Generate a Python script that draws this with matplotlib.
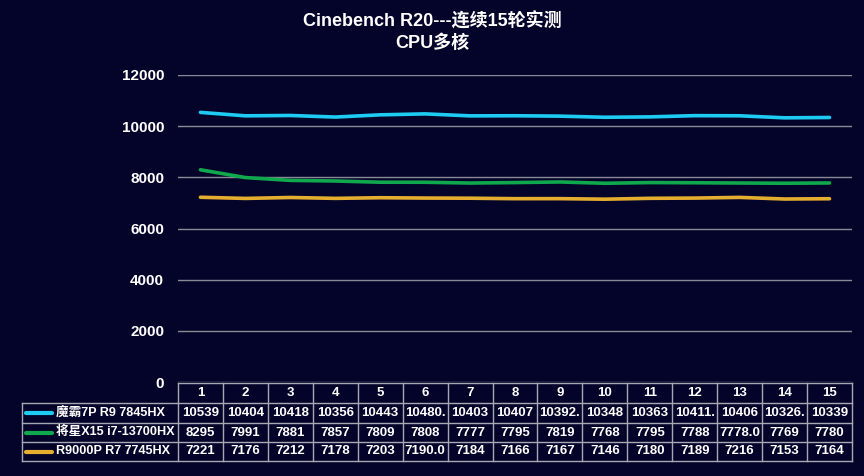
import matplotlib.pyplot as plt
import numpy as np

# ---------------- data ----------------
rounds = ['1', '2', '3', '4', '5', '6', '7', '8', '9', '10', '11', '12', '13', '14', '15']
series_names = ['魔霸7P R9 7845HX', '将星X15 i7-13700HX', 'R9000P R7 7745HX']
mobahx = [10539, 10404, 10418, 10356, 10443, 10480, 10403, 10407, 10392, 10348, 10363, 10411, 10406, 10326, 10339]
jiangxing = [8295, 7991, 7881, 7857, 7809, 7808, 7777, 7795, 7819, 7768, 7795, 7788, 7778, 7769, 7780]
r9000p = [7221, 7176, 7212, 7178, 7203, 7190, 7184, 7166, 7167, 7146, 7180, 7189, 7216, 7153, 7164]
# texts as shown in the data table (some cells are cut off in the original)
mobahx_txt = ['10539', '10404', '10418', '10356', '10443', '10480.', '10403', '10407', '10392.', '10348', '10363', '10411.', '10406', '10326.', '10339']
jiangxing_txt = ['8295', '7991', '7881', '7857', '7809', '7808', '7777', '7795', '7819', '7768', '7795', '7788', '7778.0', '7769', '7780']
r9000p_txt = ['7221', '7176', '7212', '7178', '7203', '7190.0', '7184', '7166', '7167', '7146', '7180', '7189', '7216', '7153', '7164']
colors = ['#1ecbf2', '#10a84c', '#e6ae2e']

BG = '#04042a'
FONT = ['Liberation Sans', 'Noto Sans CJK SC', 'DejaVu Sans']
plt.rcParams['font.family'] = FONT

W, H = 864, 476
fig = plt.figure(figsize=(W / 100, H / 100), dpi=100, facecolor=BG)

# plot area in pixels
px_l, px_r, px_t, px_b = 178, 852, 75, 382
ax = fig.add_axes([px_l / W, 1 - px_b / H, (px_r - px_l) / W, (px_b - px_t) / H])
ax.set_facecolor(BG)

x = np.arange(1, len(rounds) + 1)
for vals, c in zip([mobahx, jiangxing, r9000p], colors):
    ax.plot(x, vals, color=c, lw=2.6, solid_capstyle='round', zorder=3)

ax.set_xlim(0.5, len(rounds) + 0.5)
ax.set_ylim(0, 12000)
ax.set_yticks(range(0, 12001, 2000))
ax.yaxis.grid(True, color='#8a8a96', lw=1)
ax.set_axisbelow(True)
ax.set_xticks([])
ax.tick_params(axis='y', length=0, pad=10, labelsize=11, labelcolor='white')
for lab in ax.get_yticklabels():
    lab.set_fontweight('bold')
for s in ax.spines.values():
    s.set_visible(False)

fig.text(0.5, 1 - 32 / H, 'Cinebench R20---连续15轮实测\nCPU多核', ha='center', va='center',
         color='white', fontsize=13, fontweight='bold', linespacing=1.3)

# ---------------- data table ----------------
tab = fig.add_axes([0, 0, 1, 1])
tab.set_xlim(0, W)
tab.set_ylim(H, 0)
tab.axis('off')
tab.patch.set_alpha(0)

lc = '#a8a8b4'
col_w = (px_r - px_l) / len(rounds)
row_y = [383, 403, 423, 442, 461]
lbl_l = 22

# horizontal lines
tab.plot([px_l, px_r], [row_y[0], row_y[0]], color=lc, lw=1)
for yy in row_y[1:]:
    tab.plot([lbl_l, px_r], [yy, yy], color=lc, lw=1)
# vertical lines
for k in range(len(rounds) + 1):
    xx = px_l + k * col_w
    tab.plot([xx, xx], [row_y[0], row_y[-1]], color=lc, lw=1)
tab.plot([lbl_l, lbl_l], [row_y[1], row_y[-1]], color=lc, lw=1)

for k, r in enumerate(rounds):
    tab.text(px_l + (k + 0.5) * col_w, (row_y[0] + row_y[1]) / 2, r, ha='center', va='center',
             color='white', fontsize=9.5, fontweight='bold')

for i, (name, c, txts) in enumerate(zip(series_names, colors, [mobahx_txt, jiangxing_txt, r9000p_txt])):
    yc = (row_y[i + 1] + row_y[i + 2]) / 2
    tab.plot([26, 52], [yc, yc], color=c, lw=3, solid_capstyle='round')
    tab.text(56, yc, name, ha='left', va='center', color='white', fontsize=9.1, fontweight='bold')
    for k, t in enumerate(txts):
        tab.text(px_l + (k + 0.5) * col_w, yc, t, ha='center', va='center',
                 color='white', fontsize=9.5, fontweight='bold')

fig.savefig('out.png', dpi=100, facecolor=BG)
